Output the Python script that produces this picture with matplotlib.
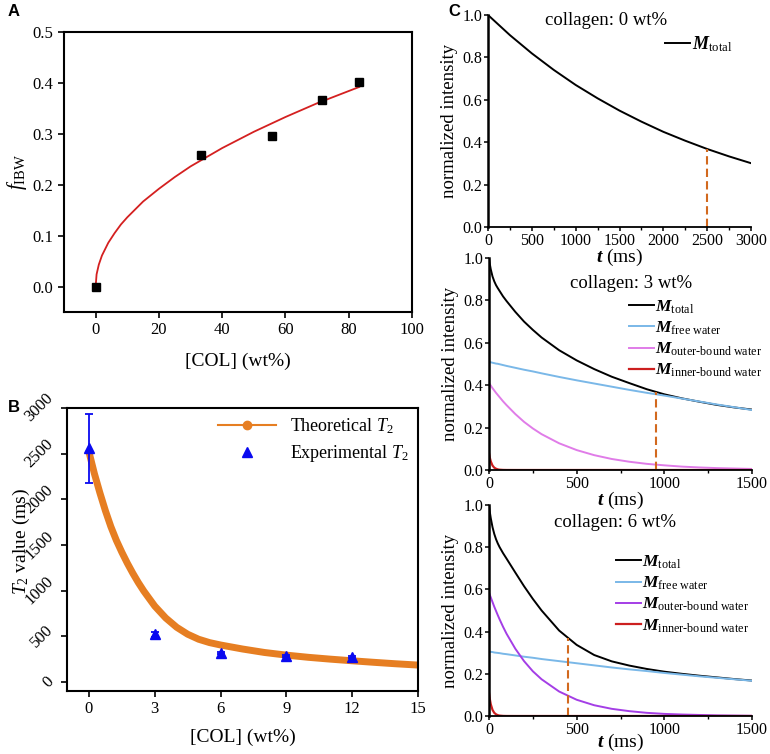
import matplotlib
matplotlib.use("Agg")
import matplotlib.pyplot as plt
from matplotlib.lines import Line2D

plt.rcParams['font.family'] = ['Liberation Serif', 'DejaVu Serif']
plt.rcParams['mathtext.fontset'] = 'custom'
plt.rcParams['mathtext.rm'] = 'Liberation Serif'
plt.rcParams['mathtext.it'] = 'Liberation Serif:italic'
plt.rcParams['mathtext.bf'] = 'Liberation Serif:bold'
plt.rcParams['mathtext.bfit'] = 'Liberation Serif:bold:italic'

# ---- panel A data ----
col_a = [0, 33.3, 55.6, 71.4, 83.3]
f_ibw = [0.0, 0.259, 0.295, 0.366, 0.401]
fit_x_a = [0, 0.3, 1, 2, 4, 6, 8, 10, 15, 20, 25, 30, 40, 50, 60, 70, 83.3]
fit_y_a = [0, 0.024, 0.043, 0.061, 0.086, 0.105, 0.122, 0.136, 0.167, 0.192,
           0.215, 0.236, 0.272, 0.304, 0.333, 0.360, 0.392]

# ---- panel B data ----
col_b = [0, 3, 6, 9, 12]
t2_exp = [2560, 520, 320, 285, 270]
t2_err_lo = [380, 30, 12, 12, 12]
t2_err_hi = [370, 30, 12, 12, 12]
theo_x = [0, 0.25, 0.5, 0.75, 1, 1.25, 1.5, 1.75, 2, 2.25, 2.5, 3, 3.5, 4, 4.5, 5,
          5.5, 6, 7, 8, 9, 10, 11, 12, 13, 14, 15]
theo_y = [2520, 2280, 2070, 1875, 1700, 1550, 1420, 1300, 1190, 1088, 995, 830,
          700, 598, 522, 467, 430, 404, 360, 322, 293, 269, 249, 231, 214, 198, 184]

# ---- panel C data ----
t_c1 = [0, 250, 500, 750, 1000, 1250, 1500, 1750, 2000, 2250, 2500, 2750, 3000]
m_total_0 = [1.0, 0.905, 0.819, 0.741, 0.670, 0.607, 0.549, 0.497, 0.449, 0.407,
             0.368, 0.333, 0.301]

t_c = [0, 5, 10, 20, 30, 40, 50, 60, 80, 100, 150, 200, 250, 300, 400, 500, 600,
       700, 800, 900, 1000, 1100, 1200, 1300, 1400, 1500]

free_3 = [0.510, 0.509, 0.508, 0.506, 0.504, 0.502, 0.501, 0.499, 0.495, 0.491,
          0.482, 0.473, 0.465, 0.456, 0.439, 0.423, 0.408, 0.393, 0.378, 0.364,
          0.351, 0.337, 0.323, 0.309, 0.296, 0.283]
outer_3 = [0.410, 0.404, 0.398, 0.386, 0.375, 0.364, 0.354, 0.344, 0.324, 0.306,
           0.264, 0.227, 0.196, 0.169, 0.126, 0.094, 0.070, 0.052, 0.039, 0.029,
           0.022, 0.016, 0.012, 0.009, 0.007, 0.005]
inner_3 = [0.080, 0.057, 0.041, 0.021, 0.011, 0.006, 0.003, 0.0015, 0.0004, 0.0001,
           0, 0, 0, 0, 0, 0, 0, 0, 0, 0, 0, 0, 0, 0, 0, 0]
total_3 = [1.000, 0.970, 0.947, 0.913, 0.890, 0.872, 0.858, 0.845, 0.819, 0.797,
           0.746, 0.700, 0.661, 0.625, 0.565, 0.517, 0.476, 0.440, 0.410, 0.381,
           0.357, 0.338, 0.322, 0.307, 0.295, 0.285]

free_6 = [0.305, 0.304, 0.304, 0.303, 0.301, 0.300, 0.299, 0.298, 0.295, 0.293,
          0.287, 0.281, 0.276, 0.270, 0.260, 0.250, 0.240, 0.230, 0.221, 0.213,
          0.204, 0.196, 0.188, 0.181, 0.174, 0.167]
outer_6 = [0.585, 0.573, 0.562, 0.540, 0.518, 0.498, 0.478, 0.459, 0.423, 0.390,
           0.319, 0.260, 0.212, 0.174, 0.116, 0.077, 0.051, 0.034, 0.023, 0.015,
           0.010, 0.007, 0.005, 0.003, 0.002, 0.001]
inner_6 = [0.110, 0.079, 0.056, 0.029, 0.015, 0.008, 0.004, 0.002, 0.0005, 0.0001,
           0, 0, 0, 0, 0, 0, 0, 0, 0, 0, 0, 0, 0, 0, 0, 0]
total_6 = [1.000, 0.965, 0.938, 0.895, 0.863, 0.838, 0.818, 0.801, 0.772, 0.746,
           0.680, 0.615, 0.555, 0.500, 0.405, 0.337, 0.289, 0.259, 0.239, 0.223,
           0.210, 0.200, 0.191, 0.183, 0.175, 0.168]

# dashed markers (t, height)
mark_0 = (2500, 0.368)
mark_3 = (950, 0.368)
mark_6 = (450, 0.368)

W, H = 770, 754
fig = plt.figure(figsize=(W / 100, H / 100), dpi=100)


def rect(l, t, r, b):
    return [l / W, 1 - b / H, (r - l) / W, (b - t) / H]


# ---------- A ----------
axA = fig.add_axes(rect(64, 32, 412, 312))
axA.plot(fit_x_a, fit_y_a, color='#d42020', lw=1.3)
axA.plot(col_a, f_ibw, 's', color='black', ms=6)
axA.set_xlim(-10, 100)
axA.set_ylim(-0.05, 0.5)
axA.set_xticks([0, 20, 40, 60, 80, 100])
axA.set_yticks([0.0, 0.1, 0.2, 0.3, 0.4, 0.5])
axA.set_yticklabels(['0.0', '0.1', '0.2', '0.3', '0.4', '0.5'])
axA.set_xlabel('[COL] (wt%)', fontsize=14, labelpad=10)
axA.set_ylabel(r'$f_{\mathrm{IBW}}$', fontsize=15)
axA.yaxis.set_label_coords(-0.10, 0.5)
axA.tick_params(labelsize=12, width=1.2, length=4)
for s in axA.spines.values():
    s.set_linewidth(1.5)

# ---------- B ----------
axB = fig.add_axes(rect(67, 408, 418, 691))
axB.plot(theo_x, theo_y, color='#e67e22', lw=5, solid_capstyle='round')
axB.errorbar(col_b, t2_exp, yerr=[t2_err_lo, t2_err_hi], fmt='^', color='#0a0af0',
             ms=7, capsize=3, elinewidth=1.3, capthick=1.3)
axB.set_xlim(-1, 15)
axB.set_ylim(-100, 3000)
axB.set_xticks([0, 3, 6, 9, 12, 15])
axB.set_yticks([0, 500, 1000, 1500, 2000, 2500, 3000])
axB.set_xlabel('[COL] (wt%)', fontsize=14, labelpad=8)
axB.set_ylabel(r'$T_2$ value (ms)', fontsize=14)
axB.yaxis.set_label_coords(-0.10, 0.53)
axB.tick_params(labelsize=12, width=1.2, length=4)
for lbl in axB.get_yticklabels():
    lbl.set_rotation(45)
    lbl.set_va('center')
for s in axB.spines.values():
    s.set_linewidth(1.5)
hB = [Line2D([], [], color='#e67e22', lw=1.5, marker='o', ms=6),
      Line2D([], [], color='#0a0af0', lw=0, marker='^', ms=7)]
axB.legend(hB, [r'Theoretical $T_2$', r'Experimental $T_2$'], loc='upper right',
           bbox_to_anchor=(0.975, 0.97), frameon=False, fontsize=13,
           handlelength=3.2, borderaxespad=0, borderpad=0, labelspacing=0.4)

# ---------- C ----------
c_blue = '#7ab8e8'
c_red = '#cc1f1f'
c_dash = '#d2691e'


def style_c(ax, xmax, xstep, minor, xpad=-1):
    ax.patch.set_visible(False)
    ax.set_xlim(0, xmax)
    ax.set_ylim(0, 1.0)
    ax.set_xticks(list(range(0, xmax + 1, xstep)))
    ax.set_xticks(list(range(minor, xmax, xstep)), minor=True)
    ax.set_yticks([0.0, 0.2, 0.4, 0.6, 0.8, 1.0])
    ax.set_yticklabels(['0.0', '0.2', '0.4', '0.6', '0.8', '1.0'])
    ax.spines['top'].set_visible(False)
    ax.spines['right'].set_visible(False)
    ax.spines['left'].set_linewidth(1.8)
    ax.spines['bottom'].set_linewidth(1.3)
    ax.tick_params(labelsize=11.5, width=1.1, length=3, pad=1)
    ax.tick_params(which='minor', length=2, width=1)
    ax.set_xlabel(r'$\mathbfit{t}$ (ms)', fontsize=14, labelpad=xpad)
    ax.set_ylabel('normalized intensity', fontsize=13.5)
    ax.yaxis.set_label_coords(-0.115, 0.5)


HY = '\u2010'
labels4 = [r'$\mathbfit{M}_{\mathrm{total}}$',
           r'$\mathbfit{M}_{\mathrm{free\ water}}$',
           r'$\mathbfit{M}_{\mathrm{outer' + HY + r'bound\ water}}$',
           r'$\mathbfit{M}_{\mathrm{inner' + HY + r'bound\ water}}$']

# C1
axC1 = fig.add_axes(rect(488, 15, 751, 227))
axC1.plot(t_c1, m_total_0, color='black', lw=1.4, label=labels4[0])
axC1.plot([mark_0[0], mark_0[0]], [0, mark_0[1]], color=c_dash, lw=1.5, dashes=(4, 2))
style_c(axC1, 3000, 500, 250)
axC1.text(0.45, 0.975, 'collagen: 0 wt%', transform=axC1.transAxes, ha='center',
          va='center', fontsize=13.5)
axC1.legend(loc='upper right', bbox_to_anchor=(0.93, 0.91), frameon=False,
            fontsize=13, handlelength=1.4, handletextpad=0.1, borderaxespad=0,
            borderpad=0)

# C2
axC2 = fig.add_axes(rect(489, 258, 752, 470))
axC2.plot(t_c, total_3, color='black', lw=1.4, label=labels4[0])
axC2.plot(t_c, free_3, color=c_blue, lw=1.4, label=labels4[1])
axC2.plot(t_c, outer_3, color='#e07ce8', lw=1.4, label=labels4[2])
axC2.plot(t_c, inner_3, color=c_red, lw=1.6, label=labels4[3])
axC2.plot([mark_3[0], mark_3[0]], [0, mark_3[1]], color=c_dash, lw=1.5, dashes=(4, 2))
style_c(axC2, 1500, 500, 250)
axC2.text(0.54, 0.88, 'collagen: 3 wt%', transform=axC2.transAxes, ha='center',
          va='center', fontsize=13.5)
axC2.legend(loc='upper right', bbox_to_anchor=(1.04, 0.81), frameon=False,
            fontsize=12.5, handlelength=1.4, handletextpad=0.1, borderaxespad=0,
            borderpad=0, labelspacing=0.22)

# C3
axC3 = fig.add_axes(rect(489, 505, 752, 716))
axC3.plot(t_c, total_6, color='black', lw=1.4, label=labels4[0])
axC3.plot(t_c, free_6, color=c_blue, lw=1.4, label=labels4[1])
axC3.plot(t_c, outer_6, color='#a43ee6', lw=1.4, label=labels4[2])
axC3.plot(t_c, inner_6, color=c_red, lw=1.6, label=labels4[3])
axC3.plot([mark_6[0], mark_6[0]], [0, mark_6[1]], color=c_dash, lw=1.5, dashes=(4, 2))
style_c(axC3, 1500, 500, 250, xpad=-4)
axC3.text(0.48, 0.915, 'collagen: 6 wt%', transform=axC3.transAxes, ha='center',
          va='center', fontsize=13.5)
axC3.legend(loc='upper right', bbox_to_anchor=(0.99, 0.77), frameon=False,
            fontsize=12.5, handlelength=1.4, handletextpad=0.1, borderaxespad=0,
            borderpad=0, labelspacing=0.22)

# panel letters
for lab, x, y in [('A', 8, 12), ('B', 8, 407), ('C', 448, 12)]:
    fig.text(x / W, 1 - y / H, lab, fontsize=12, fontweight='bold',
             family='Liberation Sans', va='center', ha='left')

fig.savefig('out.png', dpi=100)
